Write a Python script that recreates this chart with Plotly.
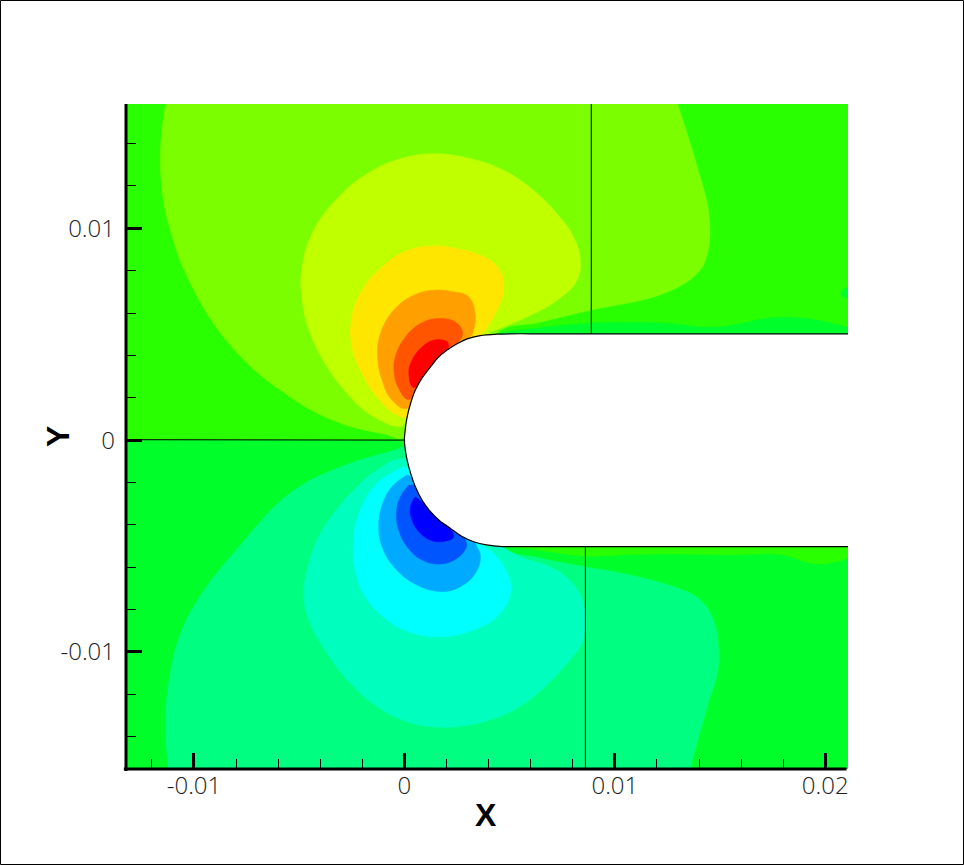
import plotly.graph_objects as go

UNIT = 1e-3  # contour outlines below are read in thousandths of the axis unit
X_RANGE = [-13.23, 21.08]
Y_RANGE = [-15.53, 15.87]

x_tick_vals = [-0.01, 0, 0.01, 0.02]
x_tick_text = ["-0.01", "0", "0.01", "0.02"]
y_tick_vals = [-0.01, 0, 0.01]
y_tick_text = ["-0.01", "0", "0.01"]

base_upper_x = [-13.3, 21.2, 21.2, -13.3]
base_upper_y = [0, 0, 15.9, 15.9]
base_lower_x = [-13.3, 21.2, 21.2, -13.3]
base_lower_y = [0, 0, -15.6, -15.6]

pos1_x = [-11.35, -11.59, -11.45, -11.12, -10.31, -8.27, -5.42, -3.04, -0.90, 0, 3, 4.42, 6.46, 8.84, 12.35, 13.92, 14.35, 14.49, 13.92, 12.97]
pos1_y = [15.9, 13.68, 11.32, 9.91, 7.69, 4.48, 2.03, 0.80, 0.28, 0.09, 2, 5.05, 5.57, 6.13, 6.93, 7.88, 8.63, 10.52, 12.88, 15.9]
pos2_x = [4.09, 5.67, 7.25, 8.20, 8.36, 8.04, 7.25, 6.14, 4.72, 3.14, 1.39, -0.19, -1.77, -3.20, -4.31, -4.86, -4.86, -4.47, -3.67, -2.57, -1.46, -0.19, 0.05, 2.5]
pos2_y = [5.11, 5.74, 6.60, 7.55, 8.49, 9.59, 10.69, 11.79, 12.74, 13.29, 13.52, 13.29, 12.58, 11.40, 9.91, 8.18, 6.60, 5.03, 3.46, 2.04, 1.10, 0.63, 0.79, 3.14]
pos3_x = [3.61, 4.24, 4.72, 4.48, 3.61, 2.50, 1.24, -0.03, -1.14, -2.01, -2.49, -2.49, -2.01, -1.30, -0.35, 0.13, 2.19]
pos3_y = [4.87, 5.82, 7.08, 8.10, 8.73, 9.04, 9.17, 8.88, 8.10, 7.08, 5.82, 4.40, 3.14, 2.04, 1.18, 1.10, 3.14]
pos4_x = [3.21, 3.37, 3.06, 2.34, 1.39, 0.44, -0.51, -1.14, -1.27, -1.06, -0.59, 0.13, 1.24]
pos4_y = [4.95, 5.82, 6.76, 7.0, 7.08, 6.84, 6.13, 5.03, 3.93, 2.83, 1.89, 1.49, 3.14]
pos5_x = [2.50, 2.77, 2.42, 1.55, 0.76, 0.05, -0.43, -0.48, -0.27, 0.21, 1.39]
pos5_y = [4.56, 5.03, 5.58, 5.74, 5.50, 4.87, 3.93, 3.14, 2.44, 1.92, 3.46]
pos6_x = [2.11, 2.03, 1.39, 0.84, 0.36, 0.21, 0.44, 1.39]
pos6_y = [4.40, 4.64, 4.72, 4.40, 3.77, 3.14, 2.48, 3.46]

strip_top_x = [4.42, 8.84, 12.35, 14.73, 17.91, 20.29, 21.2, 21.2, 4.42]
strip_top_y = [5.05, 5.52, 5.52, 5.33, 5.80, 5.52, 5.19, 4.8, 4.8]
spot_x = [21.3, 20.9, 20.75, 20.9, 21.3]
spot_y = [7.25, 7.15, 6.95, 6.75, 6.7]
strip_low_x = [5.04, 5.99, 8.60, 10.26, 12.16, 15.49, 18.0, 19.29, 20.24, 21.2, 21.2, 5.04]
strip_low_y = [-5.05, -5.14, -5.47, -5.42, -5.38, -5.42, -5.42, -5.80, -5.80, -5.42, -4.8, -4.8]

neg1_x = [-11.21, -11.35, -11.12, -10.74, -9.83, -7.79, -5.42, -3.04, -0.43, 0, 2, 4.56, 6.46, 8.60, 10.26, 12.97, 14.06, 14.68, 14.92, 14.87, 14.39, 13.55]
neg1_y = [-15.6, -13.21, -10.99, -9.43, -7.55, -4.95, -2.50, -1.27, -0.47, -0.33, -2, -5.05, -5.57, -5.99, -6.27, -6.98, -7.55, -8.49, -9.76, -10.99, -12.59, -15.6]
neg2_x = [4.80, 5.65, 6.94, 7.74, 8.36, 8.60, 8.60, 8.44, 7.73, 6.62, 5.35, 4.09, 2.82, 1.55, 0.13, -1.30, -2.57, -3.67, -4.47, -4.78, -4.62, -4.15, -3.36, -2.41, -1.30, -0.03, 2.5]
neg2_y = [-5.14, -5.57, -5.99, -6.51, -7.31, -8.25, -8.81, -9.59, -10.53, -11.71, -12.66, -13.21, -13.49, -13.55, -13.29, -12.58, -11.48, -10.06, -8.65, -7.39, -6.13, -4.72, -3.46, -2.36, -1.42, -0.86, -1.57]
neg3_x = [-0.03, -1.30, -2.09, -2.41, -2.33, -1.85, -0.82, 0.44, 1.87, 3.29, 4.40, 5.04, 4.88, 4.24, 3.61, 2.0]
neg3_y = [-1.26, -2.04, -3.30, -4.72, -6.13, -7.39, -8.49, -9.12, -9.28, -8.96, -8.33, -7.23, -6.29, -5.35, -4.87, -2.0]
neg4_x = [0.13, -0.59, -1.06, -1.22, -1.06, -0.51, 0.44, 1.71, 2.66, 3.37, 3.61, 3.37, 2.0]
neg4_y = [-1.65, -2.20, -3.07, -4.09, -5.03, -5.97, -6.76, -7.15, -6.92, -6.29, -5.50, -4.87, -2.0]
neg5_x = [0.21, -0.19, -0.38, -0.27, 0.13, 0.84, 1.71, 2.50, 2.95, 2.90, 2.0]
neg5_y = [-2.12, -2.67, -3.46, -4.25, -5.03, -5.66, -5.85, -5.58, -5.03, -4.72, -2.0]
neg6_x = [0.52, 0.29, 0.36, 0.76, 1.31, 1.95, 2.34, 1.39]
neg6_y = [-2.67, -3.14, -3.77, -4.40, -4.75, -4.76, -4.56, -3.30]

slot_x = [22.5, 8.0, 6.0, 5.0, 4.40, 3.60, 2.98, 2.50, 2.03, 1.60, 1.24, 0.85, 0.52, 0.30, 0.13, 0.04, 0.0, 0.04, 0.13, 0.30, 0.52, 0.85, 1.24, 1.70, 2.19, 2.70, 3.29, 3.90, 4.64, 5.5, 6.5, 8.0, 22.5]
slot_y = [5.02, 5.02, 5.02, 5.02, 5.0, 4.93, 4.78, 4.55, 4.25, 3.90, 3.46, 2.95, 2.36, 1.75, 1.10, 0.50, 0.0, -0.45, -0.94, -1.58, -2.2, -2.85, -3.38, -3.83, -4.17, -4.53, -4.80, -4.95, -5.03, -5.03, -5.03, -5.03, -5.03]

cut_top_x = [8.88, 8.88]
cut_top_y = [15.9, 5.02]
cut_low_x = [8.60, 8.60]
cut_low_y = [-5.03, -15.6]
cut_left_x = [-13.3, 0.0]
cut_left_y = [0.02, 0.0]

# (x, y, colour, smooth)
layers = [
    (base_upper_x, base_upper_y, "#2aff00", False),
    (base_lower_x, base_lower_y, "#00ff2a", False),
    (pos1_x, pos1_y, "#7bff00", True),
    (strip_top_x, strip_top_y, "#00ff2a", True),
    (spot_x, spot_y, "#00ff2a", True),
    (pos2_x, pos2_y, "#bfff00", True),
    (pos3_x, pos3_y, "#ffe600", True),
    (pos4_x, pos4_y, "#ffa000", True),
    (pos5_x, pos5_y, "#ff5500", True),
    (pos6_x, pos6_y, "#ff0000", True),
    (neg1_x, neg1_y, "#00ff80", True),
    (strip_low_x, strip_low_y, "#2aff00", True),
    (neg2_x, neg2_y, "#00ffbf", True),
    (neg3_x, neg3_y, "#00ffff", True),
    (neg4_x, neg4_y, "#00aaff", True),
    (neg5_x, neg5_y, "#0055ff", True),
    (neg6_x, neg6_y, "#0000ff", True),
]


def scaled(values):
    return [v * UNIT for v in values]


fig = go.Figure()
for xs, ys, colour, smooth in layers:
    fig.add_trace(go.Scatter(
        x=scaled(xs), y=scaled(ys), mode="lines", fill="toself", fillcolor=colour,
        line=dict(width=0.5, color=colour, shape="spline" if smooth else "linear", smoothing=1.2),
        hoverinfo="skip", showlegend=False,
    ))

fig.add_trace(go.Scatter(
    x=scaled(slot_x), y=scaled(slot_y), mode="lines", fill="toself", fillcolor="white",
    line=dict(width=1.2, color="black", shape="spline", smoothing=0.5),
    hoverinfo="skip", showlegend=False,
))
for xs, ys in [(cut_top_x, cut_top_y), (cut_low_x, cut_low_y), (cut_left_x, cut_left_y)]:
    fig.add_trace(go.Scatter(
        x=scaled(xs), y=scaled(ys), mode="lines", line=dict(width=1, color="black"),
        hoverinfo="skip", showlegend=False,
    ))

TICK_FONT = dict(family="Open Sans", size=24, color="#222222", weight=300)
TITLE_FONT = dict(family="Liberation Sans Narrow, Liberation Sans", size=32, color="black", weight="bold")

axis_common = dict(
    showgrid=False, zeroline=False, showline=False,
    ticks="inside", ticklen=16, tickwidth=3, tickcolor="black",
    tickfont=TICK_FONT,
    minor=dict(dtick=0.002, tick0=0, ticks="inside", ticklen=10, tickwidth=1,
               tickcolor="black", showgrid=False),
)

frame = dict(type="rect", xref="paper", yref="paper",
             x0=(0.5 - 126) / 722, x1=(963.5 - 126) / 722,
             y0=(769 - 864.5) / 665, y1=(769 - 0.5) / 665,
             line=dict(color="black", width=1), fillcolor="rgba(0,0,0,0)")
left_axis = dict(type="line", xref="paper", yref="paper", x0=0, x1=0, y0=-0.003, y1=1,
                 line=dict(color="black", width=3))
bottom_axis = dict(type="line", xref="paper", yref="paper", x0=-0.003, x1=0.998, y0=0, y1=0,
                   line=dict(color="black", width=3))

fig.update_layout(
    width=964, height=865, autosize=False,
    margin=dict(l=126, r=116, t=104, b=96),
    plot_bgcolor="white", paper_bgcolor="white",
    xaxis=dict(range=scaled(X_RANGE), tickmode="array", tickvals=x_tick_vals, ticktext=x_tick_text,
               ticklabelstandoff=0, **axis_common),
    yaxis=dict(range=scaled(Y_RANGE), tickmode="array", tickvals=y_tick_vals, ticktext=y_tick_text,
               ticklabelstandoff=10, **axis_common),
    shapes=[frame, left_axis, bottom_axis],
    annotations=[
        dict(text="X", xref="paper", yref="paper", x=(486 - 126) / 722, y=(769 - 815) / 665,
             xanchor="center", yanchor="middle", showarrow=False, font=TITLE_FONT),
        dict(text="Y", xref="paper", yref="paper", x=(58 - 126) / 722, y=(769 - 437) / 665,
             xanchor="center", yanchor="middle", showarrow=False, font=TITLE_FONT, textangle=-90),
    ],
)

fig.write_html("out.html", config=dict(displayModeBar=False),
               post_script="document.body.style.margin='0';document.documentElement.style.overflow='hidden';")
